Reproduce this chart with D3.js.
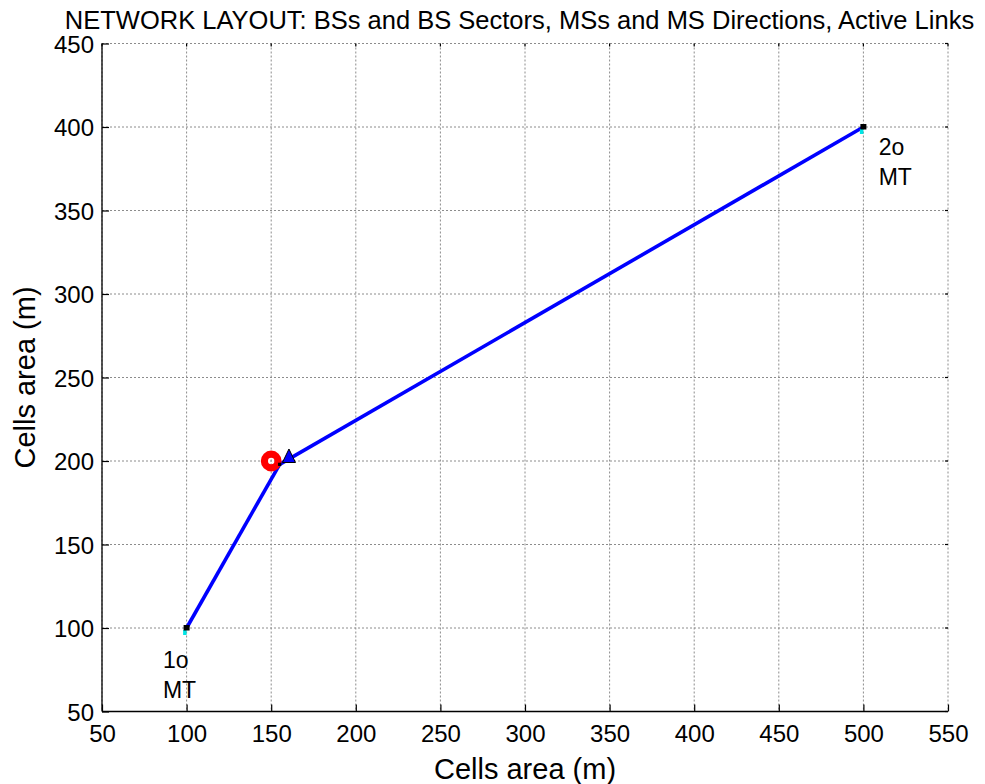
<!DOCTYPE html>
<html>
<head>
<meta charset="utf-8">
<script src="https://cdn.jsdelivr.net/npm/d3@7/dist/d3.min.js"></script>
<style>
  html, body { margin: 0; padding: 0; background: #fff; }
  svg { display: block; }
  text { font-family: "Liberation Sans", Arial, Helvetica, sans-serif; fill: #000; }
</style>
</head>
<body>
<svg id="chart" width="985" height="784"></svg>
<script>
// ---- data ----
const titleText = "NETWORK LAYOUT: BSs and BS Sectors, MSs and MS Directions, Active Links";
const xLabelText = "Cells area (m)";
const yLabelText = "Cells area (m)";
const xDomain = [50, 550];
const yDomain = [50, 450];
const xTicks = [50, 100, 150, 200, 250, 300, 350, 400, 450, 500, 550];
const yTicks = [50, 100, 150, 200, 250, 300, 350, 400, 450];

// base stations
const baseStations = [{ x: 150, y: 200 }];
// mobile stations
const mobileStations = [{ x: 100, y: 100 }, { x: 500, y: 400 }];
// active links (MS -> BS connection point)
const links = [
  [{ x: 100, y: 100 }, { x: 155, y: 198 }],
  [{ x: 500, y: 400 }, { x: 155, y: 198 }]
];
// MS direction marker
const directions = [{ x: 160.5, y: 203 }];
// MS labels (data coordinates of the first text line)
const msLabels = [
  { x: 86, y: 76, lines: ["1o", "MT"] },
  { x: 509, y: 383, lines: ["2o", "MT"] }
];

// ---- drawing ----
(function () {
const svg = d3.select("#chart");
const pL = 102, pR = 948, pT = 43.5, pB = 711.5;
const x = d3.scaleLinear().domain(xDomain).range([pL, pR]);
const y = d3.scaleLinear().domain(yDomain).range([pB, pT]);

// grid
const grid = svg.append("g");
grid.selectAll("line.gx").data(xTicks).join("line")
  .attr("x1", d => x(d)).attr("x2", d => x(d))
  .attr("y1", pT).attr("y2", pB)
  .attr("stroke", "#8c8c8c").attr("stroke-width", 1).attr("stroke-dasharray", "2,2");
grid.selectAll("line.gy").data(yTicks).join("line")
  .attr("y1", d => y(d)).attr("y2", d => y(d))
  .attr("x1", pL).attr("x2", pR)
  .attr("stroke", "#8c8c8c").attr("stroke-width", 1).attr("stroke-dasharray", "2,2");

// axes (left & bottom), ticks inward
const xAxis = d3.axisBottom(x).tickValues(xTicks).tickSize(-7).tickPadding(14).tickFormat(d3.format("d"));
const yAxis = d3.axisLeft(y).tickValues(yTicks).tickSize(-7).tickPadding(14).tickFormat(d3.format("d"));

const gx = svg.append("g").attr("transform", `translate(0,${pB})`).call(xAxis);
const gy = svg.append("g").attr("transform", `translate(${pL},0)`).call(yAxis);
[gx, gy].forEach(g => {
  g.select(".domain").attr("stroke", "#000").attr("stroke-width", 1.3);
  g.selectAll(".tick line").attr("stroke", "#000").attr("stroke-width", 1.2);
  g.selectAll(".tick text").attr("font-size", 24)
    .attr("font-family", "'Liberation Sans', Arial, sans-serif").attr("fill", "#000");
});
gx.select(".domain").attr("d", `M${pL},0H${pR}`);
gy.select(".domain").attr("d", `M0,${pB}V${pT}`);
gx.selectAll(".tick text").attr("dy", "0.72em").attr("y", 13);
gy.selectAll(".tick text").attr("x", -8).attr("dy", "0.36em");

// small top/right ticks
svg.append("g").selectAll("line").data(xTicks).join("line")
  .attr("x1", d => x(d)).attr("x2", d => x(d))
  .attr("y1", pT).attr("y2", pT + 3)
  .attr("stroke", "#000").attr("stroke-width", 1.2);
svg.append("g").selectAll("line").data(yTicks).join("line")
  .attr("y1", d => y(d)).attr("y2", d => y(d))
  .attr("x1", pR).attr("x2", pR - 3)
  .attr("stroke", "#000").attr("stroke-width", 1.2);

// links
const lineGen = d3.line().x(d => x(d.x)).y(d => y(d.y));
svg.append("g").selectAll("path").data(links).join("path")
  .attr("d", lineGen)
  .attr("fill", "none").attr("stroke", "#0000ff").attr("stroke-width", 3.6)
  .attr("stroke-linecap", "butt");

// BS marker: red ring
svg.append("g").selectAll("circle").data(baseStations).join("circle")
  .attr("cx", d => x(d.x)).attr("cy", d => y(d.y)).attr("r", 6.8)
  .attr("fill", "none").attr("stroke", "#ff0000").attr("stroke-width", 7.2);

// connection point marker
svg.append("g").selectAll("rect").data(links).join("rect")
  .attr("x", d => x(d[1].x) - 1.5).attr("y", d => y(d[1].y) - 1.5)
  .attr("width", 3).attr("height", 3).attr("fill", "#000");

// MS direction triangle
svg.append("g").selectAll("path").data(directions).join("path")
  .attr("transform", d => `translate(${x(d.x)},${y(d.y)})`)
  .attr("d", "M0,-7 L6.5,6.5 L-6.5,6.5 Z")
  .attr("fill", "#0000ff").attr("stroke", "#000").attr("stroke-width", 1);

// MS markers
const ms = svg.append("g");
ms.selectAll("rect.cy").data(mobileStations).join("rect")
  .attr("class", "cy")
  .attr("x", d => x(d.x) - 3.5).attr("y", d => y(d.y) + 2)
  .attr("width", 3.5).attr("height", 5).attr("fill", "#00e5e5");
ms.selectAll("rect.bk").data(mobileStations).join("rect")
  .attr("class", "bk")
  .attr("x", d => x(d.x) - 3).attr("y", d => y(d.y) - 3)
  .attr("width", 6).attr("height", 5.5).attr("fill", "#000");

// MS labels
const lbl = svg.append("g").selectAll("text").data(msLabels).join("text")
  .attr("font-size", 23);
lbl.selectAll("tspan").data(d => d.lines.map((t, i) => ({ t, i, d }))).join("tspan")
  .attr("x", o => x(o.d.x))
  .attr("y", o => y(o.d.y) + o.i * 29.5)
  .text(o => o.t);

// title
svg.append("text").attr("x", 519.5).attr("y", 28.5)
  .attr("text-anchor", "middle").attr("font-size", 25.5).text(titleText);

// axis labels
svg.append("text").attr("x", (pL + pR) / 2).attr("y", 779)
  .attr("text-anchor", "middle").attr("font-size", 29).text(xLabelText);
svg.append("text").attr("transform", `translate(35,${(pT + pB) / 2}) rotate(-90)`)
  .attr("text-anchor", "middle").attr("font-size", 29).text(yLabelText);
})();
</script>
</body>
</html>
